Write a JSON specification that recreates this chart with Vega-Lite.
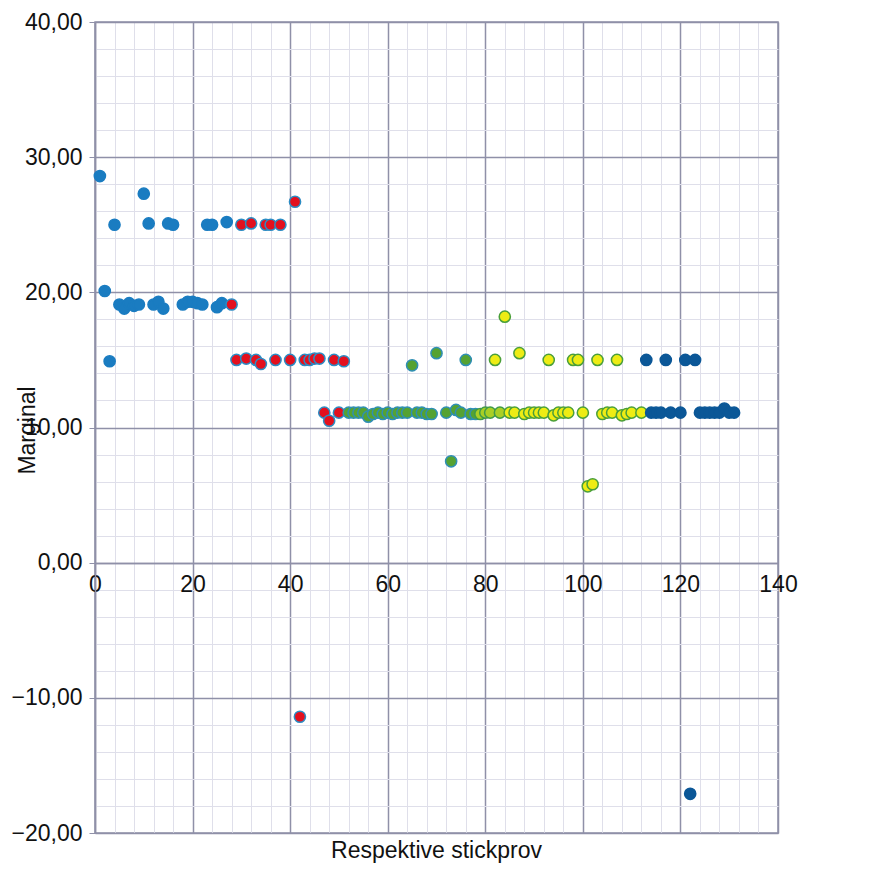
{
  "$schema": "https://vega.github.io/schema/vega-lite/v6.json",
  "width": 683,
  "height": 811,
  "autosize": {"type": "none"},
  "padding": {"left": 95, "top": 22, "right": 92, "bottom": 60},
  "background": "white",
  "config": {"view": {"stroke": "#8f90a8", "strokeWidth": 1.5}, "font": "Liberation Sans"},
  "title": {"text": "Respektive stickprov", "orient": "bottom", "fontSize": 23, "fontWeight": "normal", "font": "Liberation Sans", "color": "#111111", "offset": -5},
  "data": {"values": [
    {"x": 1, "y": 28.6, "s": "A"}, {"x": 2, "y": 20.1, "s": "A"}, {"x": 3, "y": 14.9, "s": "A"}, {"x": 4, "y": 25.0, "s": "A"},
    {"x": 5, "y": 19.1, "s": "A"}, {"x": 6, "y": 18.8, "s": "A"}, {"x": 7, "y": 19.2, "s": "A"}, {"x": 8, "y": 19.0, "s": "A"},
    {"x": 9, "y": 19.1, "s": "A"}, {"x": 10, "y": 27.3, "s": "A"}, {"x": 11, "y": 25.1, "s": "A"}, {"x": 12, "y": 19.1, "s": "A"},
    {"x": 13, "y": 19.3, "s": "A"}, {"x": 14, "y": 18.8, "s": "A"}, {"x": 15, "y": 25.1, "s": "A"}, {"x": 16, "y": 25.0, "s": "A"},
    {"x": 18, "y": 19.1, "s": "A"}, {"x": 19, "y": 19.3, "s": "A"}, {"x": 20, "y": 19.3, "s": "A"}, {"x": 21, "y": 19.2, "s": "A"},
    {"x": 22, "y": 19.1, "s": "A"}, {"x": 23, "y": 25.0, "s": "A"}, {"x": 24, "y": 25.0, "s": "A"}, {"x": 25, "y": 18.9, "s": "A"},
    {"x": 26, "y": 19.2, "s": "A"}, {"x": 27, "y": 25.2, "s": "A"},
    {"x": 28, "y": 19.1, "s": "B"}, {"x": 29, "y": 15.0, "s": "B"}, {"x": 30, "y": 25.0, "s": "B"}, {"x": 31, "y": 15.1, "s": "B"},
    {"x": 32, "y": 25.1, "s": "B"}, {"x": 33, "y": 15.0, "s": "B"}, {"x": 34, "y": 14.7, "s": "B"}, {"x": 35, "y": 25.0, "s": "B"},
    {"x": 36, "y": 25.0, "s": "B"}, {"x": 37, "y": 15.0, "s": "B"}, {"x": 38, "y": 25.0, "s": "B"}, {"x": 40, "y": 15.0, "s": "B"},
    {"x": 41, "y": 26.7, "s": "B"}, {"x": 42, "y": -11.4, "s": "B"}, {"x": 43, "y": 15.0, "s": "B"}, {"x": 44, "y": 15.0, "s": "B"},
    {"x": 45, "y": 15.1, "s": "B"}, {"x": 46, "y": 15.1, "s": "B"}, {"x": 47, "y": 11.1, "s": "B"}, {"x": 48, "y": 10.5, "s": "B"},
    {"x": 49, "y": 15.0, "s": "B"}, {"x": 50, "y": 11.1, "s": "B"}, {"x": 51, "y": 14.9, "s": "B"},
    {"x": 52, "y": 11.1, "s": "C"}, {"x": 53, "y": 11.1, "s": "C"}, {"x": 54, "y": 11.1, "s": "C"}, {"x": 55, "y": 11.1, "s": "C"},
    {"x": 56, "y": 10.8, "s": "C"}, {"x": 57, "y": 11.0, "s": "C"}, {"x": 58, "y": 11.1, "s": "C"}, {"x": 59, "y": 11.0, "s": "C"},
    {"x": 60, "y": 11.1, "s": "C"}, {"x": 61, "y": 11.0, "s": "C"}, {"x": 62, "y": 11.1, "s": "C"}, {"x": 63, "y": 11.1, "s": "C"},
    {"x": 64, "y": 11.1, "s": "C"}, {"x": 65, "y": 14.6, "s": "C"}, {"x": 66, "y": 11.1, "s": "C"}, {"x": 67, "y": 11.1, "s": "C"},
    {"x": 68, "y": 11.0, "s": "C"}, {"x": 69, "y": 11.0, "s": "C"}, {"x": 70, "y": 15.5, "s": "C"}, {"x": 72, "y": 11.1, "s": "C"},
    {"x": 73, "y": 7.5, "s": "C"}, {"x": 74, "y": 11.3, "s": "C"}, {"x": 75, "y": 11.1, "s": "C"}, {"x": 76, "y": 15.0, "s": "C"},
    {"x": 77, "y": 11.0, "s": "C"}, {"x": 78, "y": 11.0, "s": "C"},
    {"x": 79, "y": 11.0, "s": "D"}, {"x": 80, "y": 11.1, "s": "D"}, {"x": 81, "y": 11.1, "s": "D"}, {"x": 83, "y": 11.1, "s": "D"},
    {"x": 82, "y": 15.0, "s": "E"}, {"x": 84, "y": 18.2, "s": "E"}, {"x": 85, "y": 11.1, "s": "E"}, {"x": 86, "y": 11.1, "s": "E"},
    {"x": 87, "y": 15.5, "s": "E"}, {"x": 88, "y": 11.0, "s": "E"}, {"x": 89, "y": 11.1, "s": "E"}, {"x": 90, "y": 11.1, "s": "E"},
    {"x": 91, "y": 11.1, "s": "E"}, {"x": 92, "y": 11.1, "s": "E"}, {"x": 93, "y": 15.0, "s": "E"}, {"x": 94, "y": 10.9, "s": "E"},
    {"x": 95, "y": 11.1, "s": "E"}, {"x": 96, "y": 11.1, "s": "E"}, {"x": 97, "y": 11.1, "s": "E"}, {"x": 98, "y": 15.0, "s": "E"},
    {"x": 99, "y": 15.0, "s": "E"}, {"x": 100, "y": 11.1, "s": "E"}, {"x": 101, "y": 5.65, "s": "E"}, {"x": 102, "y": 5.8, "s": "E"},
    {"x": 103, "y": 15.0, "s": "E"}, {"x": 104, "y": 11.0, "s": "E"}, {"x": 105, "y": 11.1, "s": "E"}, {"x": 106, "y": 11.1, "s": "E"},
    {"x": 107, "y": 15.0, "s": "E"}, {"x": 108, "y": 10.9, "s": "E"}, {"x": 109, "y": 11.0, "s": "E"}, {"x": 110, "y": 11.1, "s": "E"},
    {"x": 112, "y": 11.1, "s": "E"},
    {"x": 113, "y": 15.0, "s": "F"}, {"x": 114, "y": 11.1, "s": "F"}, {"x": 115, "y": 11.1, "s": "F"}, {"x": 116, "y": 11.1, "s": "F"},
    {"x": 117, "y": 15.0, "s": "F"}, {"x": 118, "y": 11.1, "s": "F"}, {"x": 120, "y": 11.1, "s": "F"}, {"x": 121, "y": 15.0, "s": "F"},
    {"x": 122, "y": -17.1, "s": "F"}, {"x": 123, "y": 15.0, "s": "F"}, {"x": 124, "y": 11.1, "s": "F"}, {"x": 125, "y": 11.1, "s": "F"},
    {"x": 126, "y": 11.1, "s": "F"}, {"x": 127, "y": 11.1, "s": "F"}, {"x": 128, "y": 11.1, "s": "F"}, {"x": 129, "y": 11.4, "s": "F"},
    {"x": 130, "y": 11.1, "s": "F"}, {"x": 131, "y": 11.1, "s": "F"}
  ]},
  "mark": {"type": "circle", "size": 125, "strokeWidth": 1.5, "opacity": 1},
  "encoding": {
    "x": {
      "field": "x", "type": "quantitative",
      "scale": {"domain": [0, 140], "nice": false, "zero": false},
      "axis": {
        "values": [0, 4, 8, 12, 16, 20, 24, 28, 32, 36, 40, 44, 48, 52, 56, 60, 64, 68, 72, 76, 80, 84, 88, 92, 96, 100, 104, 108, 112, 116, 120, 124, 128, 132, 136, 140],
        "offset": -270,
        "title": null,
        "grid": true,
        "gridColor": {"condition": {"test": "datum.value % 20 === 0", "value": "#8f90a8"}, "value": "#dfdfea"},
        "gridWidth": {"condition": {"test": "datum.value % 20 === 0", "value": 1.5}, "value": 1},
        "labelExpr": "datum.value % 20 === 0 ? datum.label : ''",
        "tickOpacity": {"condition": {"test": "datum.value % 20 === 0", "value": 1}, "value": 0},
        "tickColor": "#8f90a8",
        "tickSize": 5,
        "domainColor": "#8f90a8",
        "domainWidth": 1.5,
        "labelFontSize": 23,
        "labelColor": "#111111",
        "labelPadding": 5,
        "labelFlush": false,
        "labelOverlap": false
      }
    },
    "y": {
      "field": "y", "type": "quantitative",
      "scale": {"domain": [-20, 40], "nice": false, "zero": false},
      "axis": {
        "values": [-20, -18, -16, -14, -12, -10, -8, -6, -4, -2, 0, 2, 4, 6, 8, 10, 12, 14, 16, 18, 20, 22, 24, 26, 28, 30, 32, 34, 36, 38, 40],
        "title": "Marginal",
        "titleFontSize": 23,
        "titleFontWeight": "normal",
        "titleColor": "#111111",
        "titleX": -56,
        "titleY": 408,
        "titleAngle": -90,
        "titleAlign": "center",
        "titleBaseline": "bottom",
        "grid": true,
        "gridColor": {"condition": {"test": "datum.value % 10 === 0", "value": "#8f90a8"}, "value": "#dfdfea"},
        "gridWidth": {"condition": {"test": "datum.value % 10 === 0", "value": 1.5}, "value": 1},
        "labelExpr": "datum.value % 10 === 0 ? replace(format(datum.value, '.2f'), '.', ',') : ''",
        "tickOpacity": {"condition": {"test": "datum.value % 10 === 0", "value": 1}, "value": 0},
        "tickColor": "#8f90a8",
        "tickSize": 6,
        "domainColor": "#8f90a8",
        "domainWidth": 1.5,
        "labelFontSize": 23,
        "labelColor": "#111111",
        "labelPadding": 7,
        "labelOverlap": false
      }
    },
    "fill": {
      "field": "s", "type": "nominal", "legend": null,
      "scale": {"domain": ["A", "B", "C", "D", "E", "F"], "range": ["#1a7cc1", "#e3101e", "#55a232", "#a9cf25", "#eeec14", "#0b5797"]}
    },
    "stroke": {
      "field": "s", "type": "nominal", "legend": null,
      "scale": {"domain": ["A", "B", "C", "D", "E", "F"], "range": ["#1a7cc1", "#2b8cc4", "#2f8fb4", "#3f9a48", "#4a9f3a", "#0b5797"]}
    }
  }
}
